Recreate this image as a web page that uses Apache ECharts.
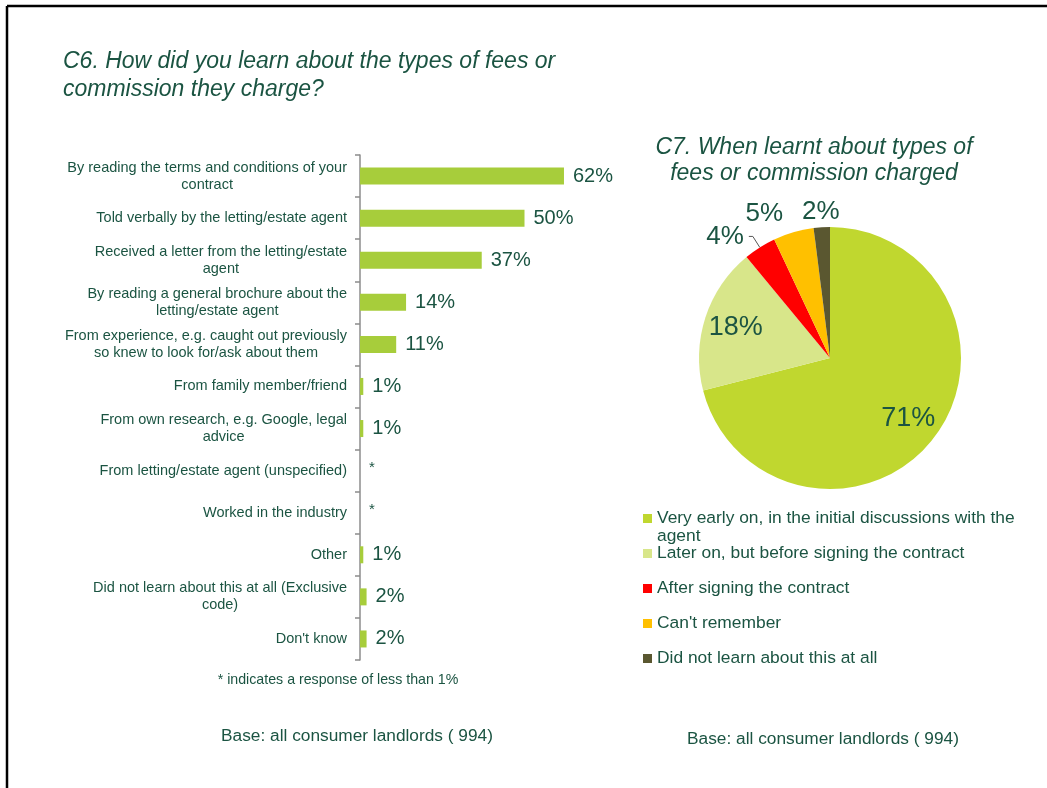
<!DOCTYPE html>
<html><head><meta charset="utf-8">
<script src="https://cdn.jsdelivr.net/npm/echarts@6/dist/echarts.min.js"></script>
<style>html,body{margin:0;padding:0;background:#fff}#c{width:1047px;height:788px}</style>
</head><body><div id="c"></div>
<script>
const barCategories = [
  'By reading the terms and conditions of your\ncontract',
  'Told verbally by the letting/estate agent',
  'Received a letter from the letting/estate\nagent',
  'By reading a general brochure about the\nletting/estate agent',
  'From experience, e.g. caught out previously\nso knew to look for/ask about them',
  'From family member/friend',
  'From own research, e.g. Google, legal\nadvice',
  'From letting/estate agent (unspecified)',
  'Worked in the industry',
  'Other',
  'Did not learn about this at all (Exclusive\ncode)',
  "Don't know"
];
const barValues = [62, 50, 37, 14, 11, 1, 1, 0, 0, 1, 2, 2];
const barLabels = ['62%', '50%', '37%', '14%', '11%', '1%', '1%', '*', '*', '1%', '2%', '2%'];

const pieNames = [
  'Very early on, in the initial discussions with the agent',
  'Later on, but before signing the contract',
  'After signing the contract',
  "Can't remember",
  'Did not learn about this at all'
];
const pieValues = [71, 18, 4, 5, 2];
const pieColors = ['#C0D72F', '#D8E68A', '#FF0000', '#FFC000', '#5A5730'];

const FONT = '"Liberation Sans", Arial, sans-serif';
const TXT = '#1B5442';

const chart = echarts.init(document.getElementById('c'), null, {renderer: 'canvas'});

const mainPieData = pieNames.map((n, i) => {
  const d = {name: n, value: pieValues[i], itemStyle: {color: pieColors[i]}};
  if (i < 2 || i === 4) d.label = {show: false};
  if (i === 2) d.labelLine = {show: true, length: 13, length2: 4, lineStyle: {color: '#555', width: 1}};
  if (i === 3) d.labelLine = {show: false, length: 19, length2: 0};
  return d;
});
const innerLabelData = pieNames.map((n, i) => ({
  name: n, value: pieValues[i],
  itemStyle: {color: 'rgba(0,0,0,0)'},
  label: {show: i < 2}
}));
const outerLabelData = pieNames.map((n, i) => ({
  name: n, value: pieValues[i],
  itemStyle: {color: 'rgba(0,0,0,0)'},
  label: {show: i === 4}
}));

const legendCenters = [518.5, 553.5, 588.5, 623.5, 658.5];
const legends = pieNames.map((n, i) => ({
  data: [n],
  orient: 'vertical',
  left: 643,
  top: i === 0 ? legendCenters[i] - 27 : legendCenters[i] - 10,
  icon: 'rect',
  itemWidth: 9,
  itemHeight: 9,
  padding: 0,
  selectedMode: false,
  formatter: name => name === pieNames[0]
    ? '\nVery early on, in the initial discussions with the\nagent'
    : name,
  textStyle: {fontFamily: FONT, fontSize: 17.4, color: TXT, lineHeight: i === 0 ? 18 : 20}
}));

chart.setOption({
  animation: false,
  backgroundColor: '#fff',
  grid: {left: 360, top: 155, width: 329, height: 505, containLabel: false},
  xAxis: {type: 'value', min: 0, max: 100, show: false},
  yAxis: {
    type: 'category',
    inverse: true,
    data: barCategories,
    axisLine: {show: true, lineStyle: {color: '#8C8C8C', width: 1.5}},
    axisTick: {show: true, length: 5, lineStyle: {color: '#8C8C8C', width: 1.5}},
    splitLine: {show: false},
    axisLabel: {
      margin: 13,
      fontFamily: FONT, fontSize: 14.5, color: TXT,
      formatter: v => v.split('\n').map(l => '{c|' + l + '}').join('\n'),
      rich: {c: {align: 'center', fontFamily: FONT, fontSize: 14.5, color: TXT, lineHeight: 17}}
    }
  },
  legend: legends,
  series: [
    {
      type: 'bar',
      data: barValues,
      barWidth: 17,
      silent: true,
      itemStyle: {color: '#A7CD3B'},
      label: {
        show: true, position: 'right', distance: 9,
        fontFamily: FONT, fontSize: 20, color: TXT,
        formatter: p => barLabels[p.dataIndex] === '*' ? '{s|*}' : barLabels[p.dataIndex],
        rich: {s: {fontFamily: FONT, fontSize: 15, color: TXT, padding: [0, 0, 6, 0]}}
      }
    },
    {
      type: 'pie',
      center: [830, 358],
      radius: 131,
      startAngle: 90,
      clockwise: true,
      silent: true,
      avoidLabelOverlap: false,
      data: mainPieData,
      label: {show: true, position: 'outside', fontFamily: FONT, fontSize: 26, color: TXT, formatter: p => p.value + '%'},
      labelLine: {show: false},
      emphasis: {disabled: true}
    },
    {
      type: 'pie',
      center: [830, 358],
      radius: [61, 131],
      startAngle: 90,
      clockwise: true,
      silent: true,
      z: 5,
      data: innerLabelData,
      label: {position: 'inside', fontFamily: FONT, fontSize: 27, color: TXT, formatter: p => p.value + '%'},
      labelLine: {show: false},
      emphasis: {disabled: true}
    },
    {
      type: 'pie',
      center: [830, 358],
      radius: [131, 155],
      startAngle: 90,
      clockwise: true,
      silent: true,
      z: 5,
      data: outerLabelData,
      label: {position: 'inside', fontFamily: FONT, fontSize: 26, color: TXT, formatter: p => p.value + '%'},
      labelLine: {show: false},
      emphasis: {disabled: true}
    }
  ],
  graphic: [
    {type: 'line', shape: {x1: 7, y1: 6, x2: 1047, y2: 6}, style: {stroke: '#000', lineWidth: 2.5}},
    {type: 'line', shape: {x1: 7, y1: 6, x2: 7, y2: 788}, style: {stroke: '#000', lineWidth: 2.5}},
    {type: 'text', x: 63, y: 48, style: {text: 'C6. How did you learn about the types of fees or\ncommission they charge?', font: 'italic 23px ' + FONT, fill: TXT, lineHeight: 28}},
    {type: 'text', x: 814, y: 135, style: {text: 'C7. When learnt about types of\nfees or commission charged', font: 'italic 23px ' + FONT, fill: TXT, lineHeight: 26, align: 'center'}},
    {type: 'text', x: 338, y: 680, style: {text: '* indicates a response of less than 1%', font: '14.2px ' + FONT, fill: TXT, align: 'center', verticalAlign: 'middle'}},
    {type: 'text', x: 357, y: 736, style: {text: 'Base: all consumer landlords ( 994)', font: '17.3px ' + FONT, fill: TXT, align: 'center', verticalAlign: 'middle'}},
    {type: 'text', x: 823, y: 739, style: {text: 'Base: all consumer landlords ( 994)', font: '17.3px ' + FONT, fill: TXT, align: 'center', verticalAlign: 'middle'}}
  ]
});
</script>
</body></html>
